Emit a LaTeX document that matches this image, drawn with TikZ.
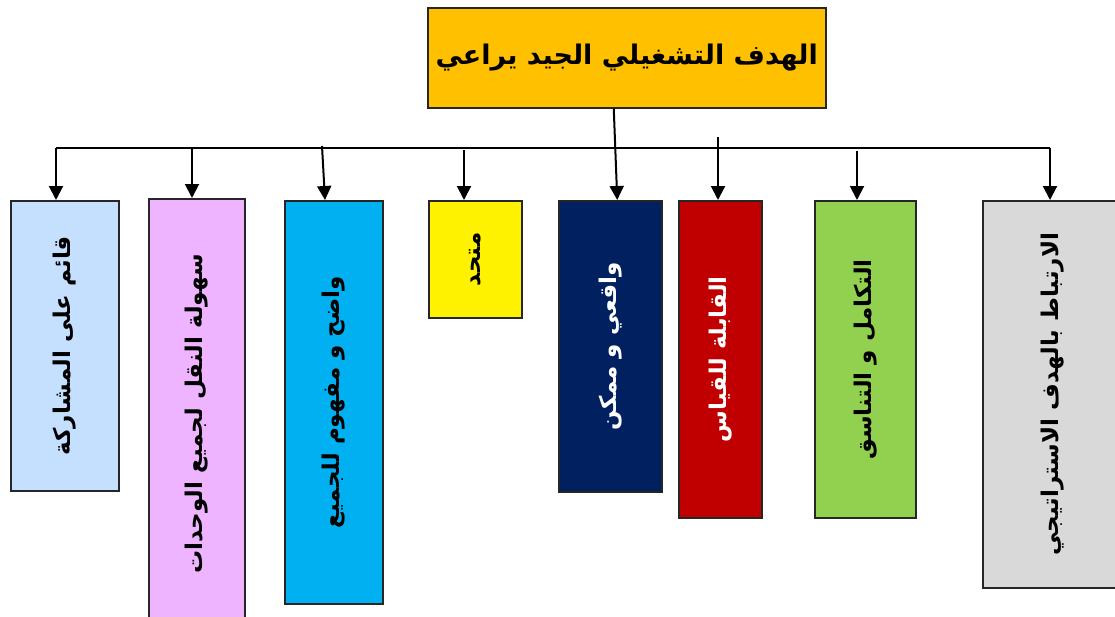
\documentclass[tikz,border=0pt]{standalone}
\usepackage{fontspec}
\TeXXeTstate=1
\newfontfamily\arabicfont[Script=Arabic]{DejaVu Sans}
\usetikzlibrary{arrows.meta}
\definecolor{goalorange}{HTML}{FFC000}
\definecolor{paleblue}{HTML}{C5DFFF}
\definecolor{lilac}{HTML}{EEB4FF}
\definecolor{skyblue}{HTML}{00B0F0}
\definecolor{navyblue}{HTML}{002060}
\definecolor{darkred}{HTML}{C00000}
\definecolor{leafgreen}{HTML}{92D050}
\definecolor{lightgray}{HTML}{D9D9D9}
\newcommand{\ar}[1]{\arabicfont\bfseries\beginR #1\endR}
\newcommand{\vt}[1]{\rotatebox{90}{\ar{#1}}}
\tikzset{
  box/.style={draw=black!85, line width=1.5pt, anchor=north west, inner sep=0pt},
  arr/.style={line width=2pt, -{Triangle[width=14pt,length=14pt]}},
  vlabel/.style={font=\fontsize{23}{27}\selectfont}
}
\begin{document}
\begin{tikzpicture}[x=1pt,y=-1pt]
\useasboundingbox (0,0) rectangle (1115,616);
\node[box, fill=goalorange, minimum width=398, minimum height=100,
  font=\fontsize{27}{32}\selectfont] (goal) at (427,7) {\ar{الهدف التشغيلي  الجيد يراعي}};

% the eight boxes
\node[box, fill=paleblue, minimum width=108, minimum height=290, vlabel] (b1) at (10,200) {\vt{قائم على المشاركة}};
\node[box, fill=lilac, minimum width=96, minimum height=430, vlabel] (b2) at (148,198) {\vt{سهولة النقل لجميع الوحدات}};
\node[box, fill=skyblue, minimum width=98, minimum height=403, vlabel] (b3) at (284,200) {\vt{واضح و مفهوم للجميع}};
\node[box, fill=yellow, minimum width=93, minimum height=117, vlabel] (b4) at (428,200) {\vt{متحد}};
\node[box, fill=navyblue, minimum width=103, minimum height=291, vlabel, text=white] (b5) at (558,200) {\vt{واقعي و ممكن}};
\node[box, fill=darkred, minimum width=83, minimum height=317, vlabel, text=white] (b6) at (678,200) {\vt{القابلة للقياس}};
\node[box, fill=leafgreen, minimum width=101, minimum height=317, vlabel] (b7) at (814,200) {\vt{التكامل و التناسق}};
\node[box, fill=lightgray, minimum width=140, minimum height=387, vlabel] (b8) at (982,200) {\vt{الارتباط بالهدف الاستراتيجي}};

% connectors
\coordinate (hl) at (56,148);
\coordinate (hr) at (1050,148);
\draw[line width=2pt] (hl) -- (hr);
\draw[arr] ([xshift=-13pt]goal.south) -- ([xshift=7pt]b5.north);
\draw[arr] (hl) -- (hl |- b1.north);
\draw[arr] (192,149) -- (192,198);
\draw[arr] (322,146) -- (325,200);
\draw[arr] (464,150) -- (464,200);
\draw[arr] (718,137) -- (718,200);
\draw[arr] (857,151) -- (857,200);
\draw[arr] (hr) -- (hr |- b8.north);
\end{tikzpicture}
\end{document}
